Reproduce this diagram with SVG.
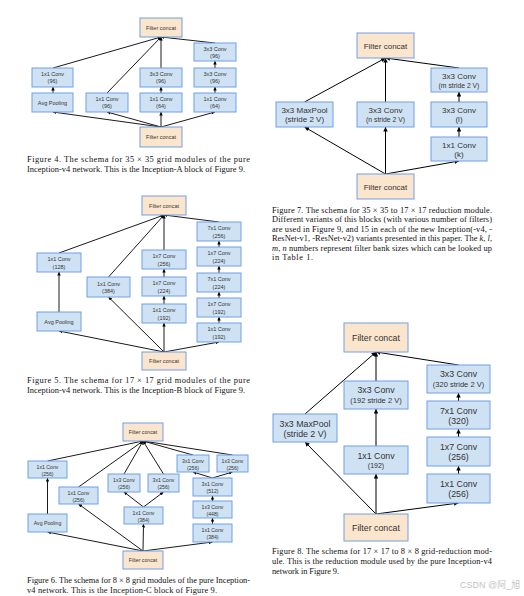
<svg xmlns="http://www.w3.org/2000/svg" width="524" height="596" viewBox="0 0 524 596">
<defs>
<style>
.n{fill:#cfe2f3;stroke:#6fa0e6;stroke-width:1}
.c{fill:#fce5cd;stroke:#6fa0e6;stroke-width:1}
.t{font-family:"Liberation Sans",Arial,sans-serif;fill:#333;text-anchor:middle}
.s4{font-size:5.5px}
.s6{font-size:5.2px}
.s7{font-size:8px}
.s7b{font-size:6.8px}
.s8{font-size:8.8px}
.s8b{font-size:7.5px}
.cap{font-family:"Liberation Serif","Times New Roman",serif;font-size:8.4px;fill:#111}
.l{stroke:#000;stroke-width:0.9;fill:none}
.L{stroke:#000;stroke-width:1;fill:none}
.sm{marker-end:url(#a)}
.bg{marker-end:url(#b)}
</style>
<marker id="a" viewBox="0 0 6 6" refX="6" refY="3" markerWidth="3.5" markerHeight="3.5" markerUnits="userSpaceOnUse" orient="auto"><path d="M0,0L6,3L0,6z" fill="#000"/></marker>
<marker id="b" viewBox="0 0 6 6" refX="6" refY="3" markerWidth="4.5" markerHeight="4.5" markerUnits="userSpaceOnUse" orient="auto"><path d="M0,0L6,3L0,6z" fill="#000"/></marker>
</defs>
<rect width="524" height="596" fill="#fff"/>

<!-- Figure 4 -->
<g id="fig4-connectors" class="l sm">
<line x1="53" y1="68" x2="161" y2="37"/>
<line x1="107" y1="93" x2="161" y2="37"/>
<line x1="161" y1="68" x2="161" y2="37"/>
<line x1="215" y1="43" x2="161" y2="37"/>
<line x1="53" y1="93" x2="53" y2="87"/>
<line x1="161" y1="93" x2="161" y2="87"/>
<line x1="215" y1="93" x2="215" y2="87"/>
<line x1="215" y1="68" x2="215" y2="61"/>
<line x1="161" y1="127" x2="53" y2="112"/>
<line x1="161" y1="127" x2="107" y2="112"/>
<line x1="161" y1="127" x2="161" y2="112"/>
<line x1="161" y1="127" x2="215" y2="112"/>
</g>
<g id="f4-top"><rect class="c" x="140" y="18" width="42" height="19"/><text class="t s4" x="161" y="29.5">Filter concat</text></g>
<g id="f4-a3"><rect class="n" x="194" y="43" width="42" height="18"/><text class="t s4" x="215" y="51">3x3 Conv</text><text class="t s4" x="215" y="58">(96)</text></g>
<g id="f4-p2"><rect class="n" x="32" y="68" width="41" height="19"/><text class="t s4" x="52.5" y="76">1x1 Conv</text><text class="t s4" x="52.5" y="83">(96)</text></g>
<g id="f4-c2"><rect class="n" x="140" y="68" width="42" height="19"/><text class="t s4" x="161" y="76">3x3 Conv</text><text class="t s4" x="161" y="83">(96)</text></g>
<g id="f4-a2"><rect class="n" x="194" y="68" width="42" height="19"/><text class="t s4" x="215" y="76">3x3 Conv</text><text class="t s4" x="215" y="83">(96)</text></g>
<g id="f4-p1"><rect class="n" x="32" y="93" width="41" height="19"/><text class="t s4" x="52.5" y="104.5">Avg Pooling</text></g>
<g id="f4-b1"><rect class="n" x="86" y="93" width="42" height="19"/><text class="t s4" x="107" y="101">1x1 Conv</text><text class="t s4" x="107" y="108">(96)</text></g>
<g id="f4-c1"><rect class="n" x="140" y="93" width="42" height="19"/><text class="t s4" x="161" y="101">1x1 Conv</text><text class="t s4" x="161" y="108">(64)</text></g>
<g id="f4-a1"><rect class="n" x="194" y="93" width="42" height="19"/><text class="t s4" x="215" y="101">1x1 Conv</text><text class="t s4" x="215" y="108">(64)</text></g>
<g id="f4-bot"><rect class="c" x="140" y="127" width="42" height="20"/><text class="t s4" x="161" y="139">Filter concat</text></g>
<text class="cap" x="27" y="162" textLength="223" lengthAdjust="spacing">Figure 4. The schema for 35 × 35 grid modules of the pure</text>
<text class="cap" x="27" y="172" textLength="218" lengthAdjust="spacing">Inception-v4 network. This is the Inception-A block of Figure 9.</text>

<!-- Figure 5 -->
<g id="fig5-connectors" class="l sm">
<line x1="59" y1="253" x2="164" y2="215"/>
<line x1="108.5" y1="277" x2="164" y2="215"/>
<line x1="164" y1="250" x2="164" y2="215"/>
<line x1="219" y1="222" x2="164" y2="215"/>
<line x1="59" y1="312" x2="59" y2="272"/>
<line x1="164" y1="304" x2="164" y2="296"/>
<line x1="164" y1="277" x2="164" y2="269"/>
<line x1="219" y1="323" x2="219" y2="317"/>
<line x1="219" y1="298" x2="219" y2="292"/>
<line x1="219" y1="273" x2="219" y2="266"/>
<line x1="219" y1="247" x2="219" y2="241"/>
<line x1="164" y1="352" x2="59" y2="331"/>
<line x1="164" y1="352" x2="108.5" y2="297"/>
<line x1="164" y1="352" x2="164" y2="323"/>
<line x1="164" y1="352" x2="219" y2="342"/>
</g>
<g id="f5-top"><rect class="c" x="142" y="196" width="44" height="19"/><text class="t s4" x="164" y="207.5">Filter concat</text></g>
<g id="f5-d5"><rect class="n" x="197" y="222" width="44" height="19"/><text class="t s4" x="219" y="230">7x1 Conv</text><text class="t s4" x="219" y="237.5">(256)</text></g>
<g id="f5-p2"><rect class="n" x="37" y="253" width="44" height="19"/><text class="t s4" x="59" y="261">1x1 Conv</text><text class="t s4" x="59" y="268.5">(128)</text></g>
<g id="f5-c3"><rect class="n" x="142" y="250" width="44" height="19"/><text class="t s4" x="164" y="258">1x7 Conv</text><text class="t s4" x="164" y="265.5">(256)</text></g>
<g id="f5-d4"><rect class="n" x="197" y="247" width="44" height="19"/><text class="t s4" x="219" y="255">1x7 Conv</text><text class="t s4" x="219" y="262.5">(224)</text></g>
<g id="f5-b1"><rect class="n" x="87" y="277" width="43" height="20"/><text class="t s4" x="108.5" y="285.5">1x1 Conv</text><text class="t s4" x="108.5" y="293">(384)</text></g>
<g id="f5-c2"><rect class="n" x="142" y="277" width="44" height="19"/><text class="t s4" x="164" y="285">1x7 Conv</text><text class="t s4" x="164" y="292.5">(224)</text></g>
<g id="f5-d3"><rect class="n" x="197" y="273" width="44" height="19"/><text class="t s4" x="219" y="281">7x1 Conv</text><text class="t s4" x="219" y="288.5">(224)</text></g>
<g id="f5-d2"><rect class="n" x="197" y="298" width="44" height="19"/><text class="t s4" x="219" y="306">1x7 Conv</text><text class="t s4" x="219" y="313.5">(192)</text></g>
<g id="f5-c1"><rect class="n" x="142" y="304" width="44" height="19"/><text class="t s4" x="164" y="312">1x1 Conv</text><text class="t s4" x="164" y="319.5">(192)</text></g>
<g id="f5-p1"><rect class="n" x="37" y="312" width="44" height="19"/><text class="t s4" x="59" y="323.5">Avg Pooling</text></g>
<g id="f5-d1"><rect class="n" x="197" y="323" width="44" height="19"/><text class="t s4" x="219" y="331">1x1 Conv</text><text class="t s4" x="219" y="338.5">(192)</text></g>
<g id="f5-bot"><rect class="c" x="142" y="352" width="44" height="18"/><text class="t s4" x="164" y="363">Filter concat</text></g>
<text class="cap" x="27" y="383" textLength="223" lengthAdjust="spacing">Figure 5. The schema for 17 × 17 grid modules of the pure</text>
<text class="cap" x="27" y="393" textLength="218" lengthAdjust="spacing">Inception-v4 network. This is the Inception-B block of Figure 9.</text>

<!-- Figure 6 -->
<g id="fig6-connectors" class="l sm">
<line x1="47.5" y1="461" x2="143" y2="441"/>
<line x1="78.5" y1="487" x2="143" y2="441"/>
<line x1="124" y1="474" x2="143" y2="441"/>
<line x1="163.5" y1="474" x2="143" y2="441"/>
<line x1="193" y1="455" x2="143" y2="441"/>
<line x1="232.5" y1="455" x2="143" y2="441"/>
<line x1="47.5" y1="514" x2="47.5" y2="478"/>
<line x1="143.5" y1="507" x2="124" y2="492"/>
<line x1="143.5" y1="507" x2="163.5" y2="492"/>
<line x1="212.5" y1="478" x2="193" y2="472"/>
<line x1="212.5" y1="478" x2="232.5" y2="472"/>
<line x1="212.5" y1="501" x2="212.5" y2="496"/>
<line x1="212.5" y1="524" x2="212.5" y2="518"/>
<line x1="143" y1="551" x2="47.5" y2="532"/>
<line x1="143" y1="551" x2="78.5" y2="504"/>
<line x1="143" y1="551" x2="143.5" y2="524"/>
<line x1="143" y1="551" x2="212.5" y2="542"/>
</g>
<g id="f6-top"><rect class="c" x="123" y="423" width="40" height="18"/><text class="t s6" x="143" y="434">Filter concat</text></g>
<g id="f6-p2"><rect class="n" x="28" y="461" width="39" height="17"/><text class="t s6" x="47.5" y="468.5">1x1 Conv</text><text class="t s6" x="47.5" y="475.5">(256)</text></g>
<g id="f6-d4a"><rect class="n" x="177" y="455" width="32" height="17"/><text class="t s6" x="193" y="462.5">3x1 Conv</text><text class="t s6" x="193" y="469.5">(256)</text></g>
<g id="f6-d4b"><rect class="n" x="217" y="455" width="31" height="17"/><text class="t s6" x="232.5" y="462.5">1x3 Conv</text><text class="t s6" x="232.5" y="469.5">(256)</text></g>
<g id="f6-c2a"><rect class="n" x="108" y="474" width="32" height="18"/><text class="t s6" x="124" y="482">1x3 Conv</text><text class="t s6" x="124" y="489">(256)</text></g>
<g id="f6-c2b"><rect class="n" x="148" y="474" width="31" height="18"/><text class="t s6" x="163.5" y="482">3x1 Conv</text><text class="t s6" x="163.5" y="489">(256)</text></g>
<g id="f6-d3"><rect class="n" x="193" y="478" width="39" height="18"/><text class="t s6" x="212.5" y="486">3x1 Conv</text><text class="t s6" x="212.5" y="493">(512)</text></g>
<g id="f6-b1"><rect class="n" x="59" y="487" width="39" height="17"/><text class="t s6" x="78.5" y="494.5">1x1 Conv</text><text class="t s6" x="78.5" y="501.5">(256)</text></g>
<g id="f6-c1"><rect class="n" x="124" y="507" width="39" height="17"/><text class="t s6" x="143.5" y="514.5">1x1 Conv</text><text class="t s6" x="143.5" y="521.5">(384)</text></g>
<g id="f6-d2"><rect class="n" x="193" y="501" width="39" height="17"/><text class="t s6" x="212.5" y="508.5">1x3 Conv</text><text class="t s6" x="212.5" y="515.5">(448)</text></g>
<g id="f6-p1"><rect class="n" x="28" y="514" width="39" height="18"/><text class="t s6" x="47.5" y="524.8">Avg Pooling</text></g>
<g id="f6-d1"><rect class="n" x="193" y="524" width="39" height="18"/><text class="t s6" x="212.5" y="532">1x1 Conv</text><text class="t s6" x="212.5" y="539">(384)</text></g>
<g id="f6-bot"><rect class="c" x="123" y="551" width="40" height="18"/><text class="t s6" x="143" y="562">Filter concat</text></g>
<text class="cap" x="27" y="583" textLength="223" lengthAdjust="spacing">Figure 6. The schema for 8 × 8 grid modules of the pure Inception-</text>
<text class="cap" x="27" y="593" textLength="190" lengthAdjust="spacing">v4 network. This is the Inception-C block of Figure 9.</text>

<!-- Figure 7 -->
<g id="fig7-connectors" class="L bg">
<line x1="304.5" y1="102" x2="385.5" y2="58"/>
<line x1="385.5" y1="102" x2="385.5" y2="58"/>
<line x1="459" y1="68" x2="385.5" y2="58"/>
<line x1="459" y1="102" x2="459" y2="92"/>
<line x1="459" y1="137" x2="459" y2="127"/>
<line x1="385.5" y1="174" x2="304.5" y2="127"/>
<line x1="385.5" y1="174" x2="385.5" y2="127"/>
<line x1="385.5" y1="174" x2="459" y2="161"/>
</g>
<g id="f7-top"><rect class="c" x="357" y="33" width="57" height="25"/><text class="t s7" x="385.5" y="48.5">Filter concat</text></g>
<g id="f7-m"><rect class="n" x="431" y="68" width="56" height="24"/><text class="t s7" x="459" y="79">3x3 Conv</text><text class="t s7b" x="459" y="88">(m stride 2 V)</text></g>
<g id="f7-pool"><rect class="n" x="276" y="102" width="57" height="25"/><text class="t s7" x="304.5" y="113">3x3 MaxPool</text><text class="t s7" x="304.5" y="122">(stride 2 V)</text></g>
<g id="f7-n"><rect class="n" x="357" y="102" width="57" height="25"/><text class="t s7" x="385.5" y="113">3x3 Conv</text><text class="t s7b" x="385.5" y="122">(n stride 2 V)</text></g>
<g id="f7-l"><rect class="n" x="431" y="102" width="56" height="25"/><text class="t s7" x="459" y="113">3x3 Conv</text><text class="t s7" x="459" y="122">(l)</text></g>
<g id="f7-k"><rect class="n" x="431" y="137" width="56" height="24"/><text class="t s7" x="459" y="148">1x1 Conv</text><text class="t s7" x="459" y="157">(k)</text></g>
<g id="f7-bot"><rect class="c" x="357" y="174" width="57" height="25"/><text class="t s7" x="385.5" y="189.5">Filter concat</text></g>
<text class="cap" x="272" y="212.5" textLength="220" lengthAdjust="spacing">Figure 7. The schema for 35 × 35 to 17 × 17 reduction module.</text>
<text class="cap" x="272" y="222" textLength="220" lengthAdjust="spacing">Different variants of this blocks (with various number of filters)</text>
<text class="cap" x="272" y="231.5" textLength="220" lengthAdjust="spacing">are used in Figure 9, and 15 in each of the new Inception(-v4, -</text>
<text class="cap" x="272" y="241" textLength="220" lengthAdjust="spacing">ResNet-v1, -ResNet-v2) variants presented in this paper. The <tspan font-style="italic">k</tspan>, <tspan font-style="italic">l</tspan>,</text>
<text class="cap" x="272" y="250.5" textLength="220" lengthAdjust="spacing"><tspan font-style="italic">m</tspan>, <tspan font-style="italic">n</tspan> numbers represent filter bank sizes which can be looked up</text>
<text class="cap" x="272" y="260" textLength="41" lengthAdjust="spacing">in Table 1.</text>

<!-- Figure 8 -->
<g id="fig8-connectors" class="L bg">
<line x1="305" y1="414" x2="376" y2="352"/>
<line x1="376" y1="381" x2="376" y2="352"/>
<line x1="458.5" y1="365" x2="376" y2="352"/>
<line x1="376" y1="446" x2="376" y2="409"/>
<line x1="458.5" y1="401" x2="458.5" y2="393"/>
<line x1="458.5" y1="437" x2="458.5" y2="429"/>
<line x1="458.5" y1="474" x2="458.5" y2="466"/>
<line x1="376" y1="514" x2="305" y2="442"/>
<line x1="376" y1="514" x2="376" y2="474"/>
<line x1="376" y1="514" x2="458.5" y2="503"/>
</g>
<g id="f8-top"><rect class="c" x="344" y="323" width="64" height="29"/><text class="t s8" x="376" y="340.5">Filter concat</text></g>
<g id="f8-d4"><rect class="n" x="427" y="365" width="63" height="28"/><text class="t s8" x="458.5" y="377">3x3 Conv</text><text class="t s8b" x="458.5" y="387">(320 stride 2 V)</text></g>
<g id="f8-c2"><rect class="n" x="344" y="381" width="64" height="28"/><text class="t s8" x="376" y="393">3x3 Conv</text><text class="t s8b" x="376" y="403">(192 stride 2 V)</text></g>
<g id="f8-pool"><rect class="n" x="273" y="414" width="64" height="28"/><text class="t s8" x="305" y="426.5">3x3 MaxPool</text><text class="t s8" x="305" y="436.5">(stride 2 V)</text></g>
<g id="f8-d3"><rect class="n" x="427" y="401" width="63" height="28"/><text class="t s8" x="458.5" y="413.5">7x1 Conv</text><text class="t s8" x="458.5" y="423.5">(320)</text></g>
<g id="f8-c1"><rect class="n" x="344" y="446" width="64" height="28"/><text class="t s8" x="376" y="458.5">1x1 Conv</text><text class="t" style="font-size:7px" x="376" y="468">(192)</text></g>
<g id="f8-d2"><rect class="n" x="427" y="437" width="63" height="29"/><text class="t s8" x="458.5" y="449.5">1x7 Conv</text><text class="t s8" x="458.5" y="460">(256)</text></g>
<g id="f8-d1"><rect class="n" x="427" y="474" width="63" height="29"/><text class="t s8" x="458.5" y="486.5">1x1 Conv</text><text class="t s8" x="458.5" y="497">(256)</text></g>
<g id="f8-bot"><rect class="c" x="344" y="514" width="64" height="27"/><text class="t s8" x="376" y="530.5">Filter concat</text></g>
<text class="cap" x="272" y="553.5" textLength="220" lengthAdjust="spacing">Figure 8. The schema for 17 × 17 to 8 × 8 grid-reduction mod-</text>
<text class="cap" x="272" y="563.5" textLength="220" lengthAdjust="spacing">ule.  This is the reduction module used by the pure Inception-v4</text>
<text class="cap" x="272" y="573.5" textLength="67" lengthAdjust="spacing">network in Figure 9.</text>

<text x="460" y="588" style="font-family:'Liberation Sans','Noto Sans CJK SC',sans-serif;font-size:9px;fill:#c4c4c4">CSDN @阿_旭</text>
</svg>
